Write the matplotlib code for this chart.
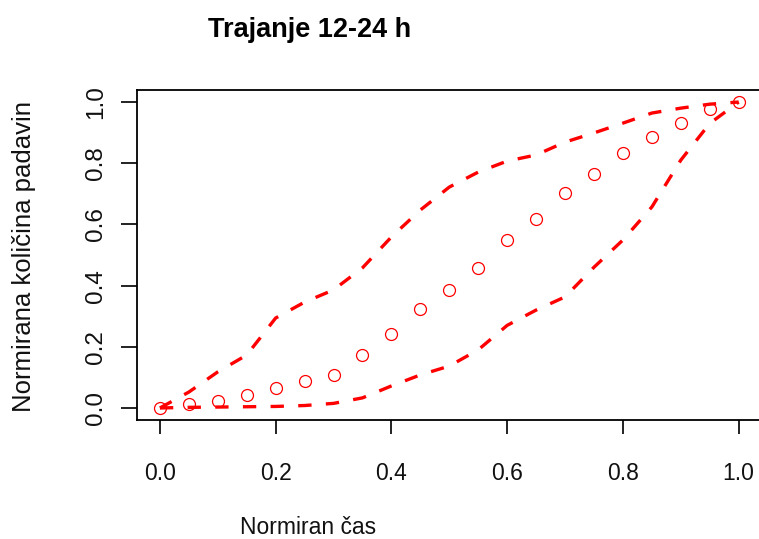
import numpy as np
import matplotlib
matplotlib.use("Agg")
import matplotlib.pyplot as plt

plt.rcParams['font.family'] = ['Liberation Sans', 'DejaVu Sans']

# normalised time and the mean curve (circles)
t = [0.0, 0.05, 0.10, 0.15, 0.20, 0.25, 0.30, 0.35, 0.40, 0.45, 0.50,
     0.55, 0.60, 0.65, 0.70, 0.75, 0.80, 0.85, 0.90, 0.95, 1.0]
mean_curve = [0.0, 0.013, 0.023, 0.042, 0.065, 0.088, 0.108, 0.173, 0.242, 0.324, 0.386,
              0.458, 0.549, 0.618, 0.703, 0.765, 0.833, 0.886, 0.931, 0.977, 1.0]

# upper and lower envelope (dashed)
upper = [0.0, 0.052, 0.118, 0.173, 0.294, 0.346, 0.386, 0.458, 0.559, 0.647, 0.722,
         0.771, 0.807, 0.827, 0.869, 0.899, 0.931, 0.964, 0.980, 0.993, 1.0]
lower = [0.0, 0.002, 0.003, 0.004, 0.005, 0.008, 0.015, 0.033, 0.072, 0.108, 0.137,
         0.19, 0.27, 0.32, 0.363, 0.46, 0.549, 0.657, 0.81, 0.93, 1.0]

ticks = [0.0, 0.2, 0.4, 0.6, 0.8, 1.0]
tick_labels = ['0.0', '0.2', '0.4', '0.6', '0.8', '1.0']

fig = plt.figure(figsize=(7.59, 5.39), dpi=100)
ax = fig.add_axes([0.1802, 0.2204, 0.8235, 0.6130])

ax.plot(t, mean_curve, 'o', ms=8.6, mfc='none', mec='red', mew=0.9)
for env in (upper, lower):
    ax.plot(t, env, color='red', lw=2.4, dashes=(4.0, 4.3))

ax.set_xlim(-0.04, 1.04)
ax.set_ylim(-0.04, 1.04)
ax.set_xticks(ticks)
ax.set_xticklabels(tick_labels)
ax.set_yticks(ticks)
ax.set_yticklabels(tick_labels, rotation=90, va='center')

for s in ax.spines.values():
    s.set_linewidth(1.3)
ax.tick_params(axis='x', length=10, width=1.3, labelsize=16.5, pad=20, colors='#111111')
ax.tick_params(axis='y', length=11.5, width=1.3, labelsize=17.5, pad=10, colors='#111111')

fig.text(310 / 759, 1 - 30 / 539, 'Trajanje 12-24 h', ha='center', va='center',
         fontsize=19.5, fontweight='bold')
fig.text(308 / 759, 1 - 528 / 539, 'Normiran čas', ha='center', va='center',
         fontsize=16.5, color='#111111')
fig.text(24 / 759, 1 - 257 / 539, 'Normirana količina padavin', ha='center', va='center',
         fontsize=18.5, rotation=90, color='#111111')

fig.savefig('out.png', dpi=100)
